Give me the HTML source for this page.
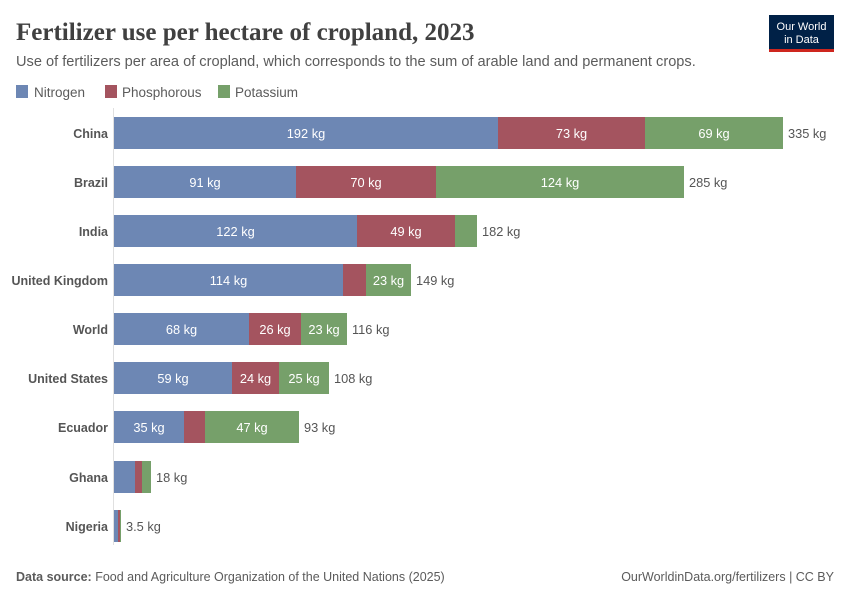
<!DOCTYPE html>
<html><head><meta charset="utf-8"><style>
body{margin:0;background:#fff;width:850px;height:600px;overflow:hidden;font-family:"Liberation Sans",sans-serif}
</style></head><body>
<svg width="850" height="600" xmlns="http://www.w3.org/2000/svg" font-family="Liberation Sans, sans-serif">
<text x="16" y="40" font-family="Liberation Serif, serif" font-size="25" font-weight="bold" fill="#404040">Fertilizer use per hectare of cropland, 2023</text>
<text x="16" y="66" font-size="14.6" fill="#5b5b5b">Use of fertilizers per area of cropland, which corresponds to the sum of arable land and permanent crops.</text>
<rect x="769" y="15" width="65" height="34" fill="#002147"/>
<rect x="769" y="49" width="65" height="3" fill="#ce261e"/>
<text x="801.5" y="30" font-size="11" fill="#fff" text-anchor="middle">Our World</text>
<text x="801.5" y="43" font-size="11" fill="#fff" text-anchor="middle">in Data</text>
<rect x="16" y="85" width="12" height="13" fill="#6d87b4"/>
<text x="34" y="97" font-size="13.5" fill="#5b5b5b">Nitrogen</text>
<rect x="105" y="85" width="12" height="13" fill="#a4545f"/>
<text x="122" y="97" font-size="13.5" fill="#5b5b5b">Phosphorous</text>
<rect x="218" y="85" width="12" height="13" fill="#76a06a"/>
<text x="235" y="97" font-size="13.5" fill="#5b5b5b">Potassium</text>
<line x1="113.5" y1="108" x2="113.5" y2="545" stroke="#e0e0e0"/>
<g font-size="12.5" text-anchor="end" font-weight="bold" fill="#555">
<text x="108" y="138">China</text><text x="108" y="187">Brazil</text><text x="108" y="236">India</text>
<text x="108" y="285">United Kingdom</text><text x="108" y="334">World</text><text x="108" y="383">United States</text>
<text x="108" y="432">Ecuador</text><text x="108" y="482">Ghana</text><text x="108" y="531">Nigeria</text>
</g>
<g id="bars"></g>
<text x="16" y="581" font-size="12.5" fill="#5b5b5b"><tspan font-weight="bold">Data source:</tspan> Food and Agriculture Organization of the United Nations (2025)</text>
<text x="834" y="581" font-size="12.5" fill="#5b5b5b" text-anchor="end">OurWorldinData.org/fertilizers | CC BY</text>
</svg>
<script>
var rows=[[133,[498,645,783],["192 kg","73 kg","69 kg"],"335 kg"],
[182,[296,436,684],["91 kg","70 kg","124 kg"],"285 kg"],
[231,[357,455,477],["122 kg","49 kg",""],"182 kg"],
[280,[343,366,411],["114 kg","","23 kg"],"149 kg"],
[329,[249,301,347],["68 kg","26 kg","23 kg"],"116 kg"],
[378,[232,279,329],["59 kg","24 kg","25 kg"],"108 kg"],
[427,[184,205,299],["35 kg","","47 kg"],"93 kg"],
[477,[135,142,151],["","",""],"18 kg"],
[526,[118,120,121],["","",""],"3.5 kg"]];
var c=["#6d87b4","#a4545f","#76a06a"],s="";
rows.forEach(function(r){var x=114;for(var i=0;i<3;i++){var e=r[1][i];
s+='<rect x="'+x+'" y="'+(r[0]-16)+'" width="'+(e-x)+'" height="32" fill="'+c[i]+'"/>';
if(r[2][i])s+='<text x="'+((x+e)/2)+'" y="'+(r[0]+5)+'" font-size="12.8" fill="#fff" text-anchor="middle">'+r[2][i]+'</text>';x=e;}
s+='<text x="'+(x+5)+'" y="'+(r[0]+5)+'" font-size="12.8" fill="#555">'+r[3]+'</text>';});
document.getElementById("bars").innerHTML=s;
</script>
</body></html>
